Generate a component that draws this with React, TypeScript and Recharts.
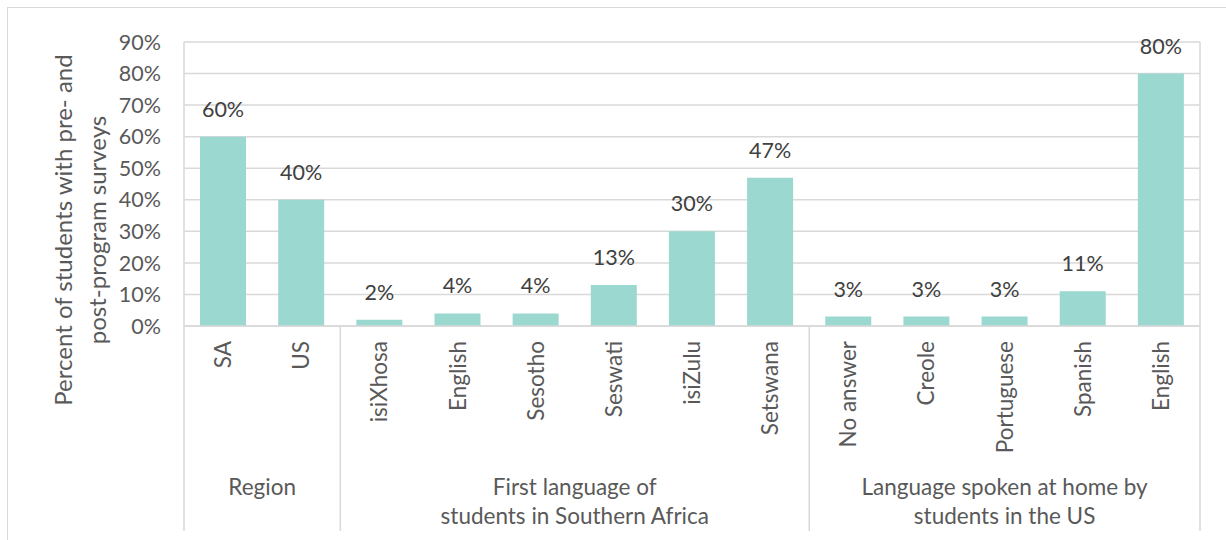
import React from "react";
import {
  BarChart,
  Bar,
  XAxis,
  YAxis,
  CartesianGrid,
  LabelList,
} from "recharts";

// categories along the x axis, in order
const categories = [
  "SA",
  "US",
  "isiXhosa",
  "English",
  "Sesotho",
  "Seswati",
  "isiZulu",
  "Setswana",
  "No answer",
  "Creole",
  "Portuguese",
  "Spanish",
  "English",
];

// percent of students in each category
const values = [60, 40, 2, 4, 4, 13, 30, 47, 3, 3, 3, 11, 80];

// second-level axis groups: how many categories each one spans
const groupSizes = [2, 6, 5];
const groupLabels = [
  ["Region"],
  ["First language of", "students in Southern Africa"],
  ["Language spoken at home by", "students in the US"],
];

const yTicks = [0, 10, 20, 30, 40, 50, 60, 70, 80, 90];

const WIDTH = 1226;
const HEIGHT = 540;
const FONT = "Lato, 'Open Sans', sans-serif";
const TEXT = "#595959";
const GRID = "#d9d9d9";
const BAR = "#9bd8cf";

const data = values.map((value, i) => ({ id: `c${i}`, value }));

// index of the first category in every group
const groupStarts = groupSizes.reduce<number[]>((acc, size, i) => {
  acc.push(i === 0 ? 0 : acc[i - 1] + groupSizes[i - 1]);
  return acc;
}, []);

const CategoryTick = (props: any) => {
  const { x, y, index, payload } = props;
  const half = payload?.offset || (WIDTH - 184 - 26) / categories.length / 2;
  const g = groupStarts.indexOf(index);
  const isLast = index === categories.length - 1;
  return (
    <g>
      <text
        x={0}
        y={0}
        transform={`translate(${x + 8},${y + 15}) rotate(-90)`}
        textAnchor="end"
        fontFamily={FONT}
        fontSize={22.5}
        fill={TEXT}
      >
        {categories[index]}
      </text>
      {g >= 0 && (
        <>
          <line
            x1={x - half}
            x2={x - half}
            y1={y}
            y2={y + 205}
            stroke={GRID}
            strokeWidth={1.5}
          />
          {groupLabels[g].map((line, k) => (
            <text
              key={k}
              x={x - half + groupSizes[g] * half}
              y={y + 169 + k * 29}
              textAnchor="middle"
              fontFamily={FONT}
              fontSize={22.5}
              fill={TEXT}
            >
              {line}
            </text>
          ))}
        </>
      )}
      {isLast && (
        <line
          x1={x + half}
          x2={x + half}
          y1={y}
          y2={y + 205}
          stroke={GRID}
          strokeWidth={1.5}
        />
      )}
    </g>
  );
};

const YTitle = () => (
  <g fontFamily={FONT} fontSize={24} fill={TEXT}>
    <text x={0} y={0} transform="translate(72,230) rotate(-90)" textAnchor="middle">
      Percent of students with pre- and
    </text>
    <text x={0} y={0} transform="translate(106,230) rotate(-90)" textAnchor="middle">
      post-program surveys
    </text>
  </g>
);

export default function App() {
  return (
    <div style={{ position: "absolute", left: 0, top: 0, width: WIDTH, height: HEIGHT, background: "#fff", overflow: "hidden" }}>
      <div
        style={{
          position: "absolute",
          left: 7,
          top: 7,
          width: WIDTH,
          height: HEIGHT,
          borderTop: `1.5px solid ${GRID}`,
          borderLeft: `1.5px solid ${GRID}`,
        }}
      />
      <BarChart
        width={WIDTH}
        height={HEIGHT}
        data={data}
        margin={{ top: 42, right: 26, bottom: 0, left: 0 }}
        barCategoryGap="20.5%"
      >
        <CartesianGrid
          stroke={GRID}
          strokeWidth={1.5}
          verticalCoordinatesGenerator={({ offset }: any) => [
            offset.left,
            offset.left + offset.width,
          ]}
        />
        <XAxis
          dataKey="id"
          interval={0}
          height={214}
          tickSize={0}
          tickMargin={0}
          axisLine={{ stroke: GRID, strokeWidth: 1.5 }}
          tickLine={false}
          tick={<CategoryTick />}
        />
        <YAxis
          width={184}
          domain={[0, 90]}
          ticks={yTicks}
          tickFormatter={(v: number) => `${v}%`}
          axisLine={false}
          tickLine={false}
          tickSize={0}
          tickMargin={23}
          tick={{ fontFamily: FONT, fontSize: 21.5, fill: TEXT }}
          label={<YTitle />}
        />
        <Bar dataKey="value" fill={BAR} isAnimationActive={false}>
          <LabelList
            dataKey="value"
            position="top"
            offset={20}
            formatter={(v: any) => `${v}%`}
            style={{ fontFamily: FONT, fontSize: 21.5, fill: "#404040" }}
          />
        </Bar>
      </BarChart>
    </div>
  );
}
